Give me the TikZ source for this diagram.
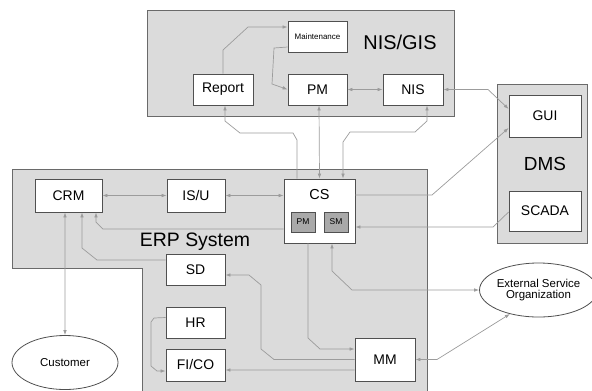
\documentclass[tikz,border=0pt]{standalone}
\usepackage{fontspec}
\setmainfont{Liberation Sans}
\usepackage{tikz}
\usetikzlibrary{arrows.meta}
\usetikzlibrary{shapes.geometric}
\definecolor{panelfill}{HTML}{DBDBDB}
\definecolor{panelline}{HTML}{6A6A6A}
\definecolor{boxline}{HTML}{505050}
\definecolor{subfill}{HTML}{A9A9A9}
\definecolor{linkgray}{HTML}{9C9C9C}
\newcommand{\fs}[1]{\fontsize{#1}{#1}\selectfont}

\begin{document}
\begin{tikzpicture}[x=1bp, y=-1bp, >={Latex[length=5bp,width=3.6bp]},
  panel/.style={draw=panelline, fill=panelfill, line width=0.8bp},
  box/.style={draw=boxline, fill=white, line width=0.8bp, inner sep=0pt, font=\fs{14}},
  subbox/.style={draw=boxline, fill=subfill, line width=0.8bp, inner sep=0pt,
    minimum width=24bp, minimum height=20bp, font=\fs{8.5}},
  party/.style={ellipse, draw=boxline, fill=white, line width=0.8bp, inner sep=0pt,
    minimum width=106bp, minimum height=54bp, font=\fs{11.5}, align=center},
  link/.style={draw=linkgray, line width=0.7bp}]

\useasboundingbox (0,0) rectangle (592,390);

\draw[panel] (147,10) rectangle (454,116);
\draw[panel] (497,84) rectangle (587,243);
\draw[panel] (12,169) -- (427,169) -- (427,396) -- (142,396) -- (142,268) -- (12,268) -- cycle;

\node[font=\fs{20}] (nisgistitle) at (400,42) {NIS/GIS};
\node[font=\fs{19}] (dmstitle) at (545,164) {DMS};
\node[font=\fs{19.5}] (erptitle) at (195,242) {ERP System};

\node[box, minimum width=59bp, minimum height=31bp, font=\fs{8}] (maint) at (317.5,36.5) {Maintenance};
\node[box, minimum width=60bp, minimum height=31bp] (report) at (223,89.5) {Report};
\node[box, minimum width=59bp, minimum height=31bp] (pmgis) at (317.5,89.5) {PM};
\node[box, minimum width=60bp, minimum height=31bp] (nis) at (413,89.5) {NIS};

\node[box, minimum width=72bp, minimum height=42bp] (gui) at (545,116) {GUI};
\node[box, minimum width=72bp, minimum height=40bp] (scada) at (545,211) {SCADA};

\node[box, minimum width=67bp, minimum height=33bp] (crm) at (68.5,195.5) {CRM};
\node[box, minimum width=58bp, minimum height=33bp] (isu) at (196,195.5) {IS/U};
\node[box, minimum width=71bp, minimum height=64bp] (cs) at (319.5,211) {};
\node[font=\fs{14.5}] (cslabel) at (319.5,195) {CS};
\node[subbox] (cspm) at (303,222) {PM};
\node[subbox] (cssm) at (336,222) {SM};
\node[box, minimum width=59bp, minimum height=31bp] (sd) at (195.5,269.5) {SD};
\node[box, minimum width=59bp, minimum height=31bp] (hr) at (195.5,322.5) {HR};
\node[box, minimum width=59bp, minimum height=32bp] (fico) at (195.5,365) {FI/CO};
\node[box, minimum width=60bp, minimum height=43bp] (mm) at (385,359.5) {MM};

\node[party] (customer) at (65,362.5) {Customer};
\node[party, minimum width=107bp] (ext) at (538.5,290) {External Service\\Organization};

\draw[link, ->] (report.north) -- (223,50) -- (248,27) -- ([yshift=9.5bp]maint.west);
\draw[link, ->] ([yshift=-10.5bp]maint.west) -- (274,48) -- (272,84) -- (pmgis.west);
\draw[link, <->] (pmgis.east) -- (nis.west);
\draw[link, <->] (nis.east) -- (488,89.5) -- ([yshift=7bp]gui.west);

\draw[link, ->] ([yshift=16bp]cs.east) -- (432,195) -- ([yshift=-12bp]gui.west);
\draw[link, ->] ([yshift=-1bp]scada.west) -- (493,227) -- ([yshift=-16bp]cs.east);
\draw[link, <->] ([xshift=12.5bp]cs.south) -- (332,271) -- (352,290) -- (ext.west);
\draw[link, <->] (mm.east) -- (437,359.5) -- (ext.220);

\draw[link, ->] ([xshift=-22.5bp]cs.north) -- (297,140) -- (293,133) -- (240,133) -- (225,121) -- ([xshift=2bp]report.south);
\draw[link, <->] ([xshift=1.5bp]pmgis.south) -- (cs.north);
\draw[link, <->] ([xshift=14bp]nis.south) -- (427,121) -- (415,132) -- (350,132) -- (343,142) -- ([xshift=23.5bp]cs.north);

\draw[link, <->] (crm.east) -- (isu.west);
\draw[link, <->] (isu.east) -- ([yshift=15.5bp]cs.west);
\draw[link, ->] ([yshift=-18bp]cs.west) -- (103,229) -- (96,222) -- ([xshift=27.5bp]crm.south);
\draw[link, ->] ([yshift=9.5bp]sd.west) -- (97,260) -- (82,248) -- ([xshift=13.5bp]crm.south);
\draw[link, <->] ([xshift=-3.5bp]crm.south) -- (customer.north);

\draw[link, ->] ([xshift=-11.5bp]cs.south) -- (308,338) -- (320,349) -- ([yshift=10.5bp]mm.west);
\draw[link, ->] (mm.west) -- (274,359.5) -- (261,349) -- (261,285) -- (249,275) -- ([yshift=-5.5bp]sd.east);
\draw[link, ->] ([yshift=-10.5bp]mm.west) -- ([yshift=-5bp]fico.east);
\draw[link, ->] ([yshift=5bp]hr.west) -- (154,318) -- (151,322) -- (151,366) -- (157,371) -- ([yshift=-6bp]fico.west);

\end{tikzpicture}
\end{document}
